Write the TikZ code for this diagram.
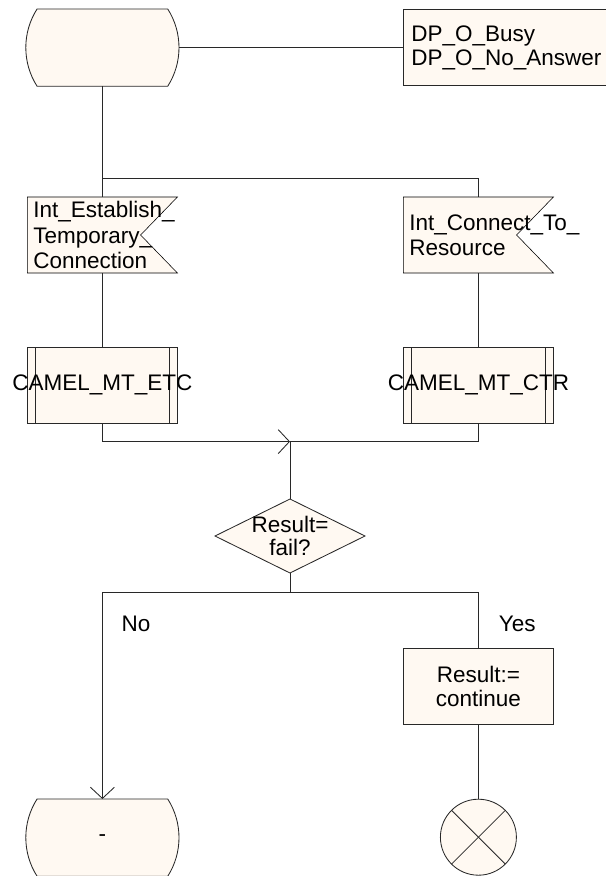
\documentclass[tikz,border=0pt]{standalone}
\usepackage{fontspec}
\setmainfont{Liberation Sans}
\usepackage{tikz}
\usetikzlibrary{arrows.meta, shapes.geometric, shapes.misc, positioning, backgrounds, calc}
\definecolor{symFill}{RGB}{255,249,242}
\definecolor{symLine}{RGB}{40,40,40}

\begin{document}
\begin{tikzpicture}[
    font=\fontsize{16}{17}\selectfont,
    line width=0.6pt, draw=symLine,
    state/.style={rounded rectangle, rounded rectangle arc length=65, draw, fill=symFill, minimum width=3.83cm, minimum height=1.93cm, inner sep=0pt, outer sep=0pt},
    txt/.style={rectangle, draw, fill=symFill, minimum height=1.9cm, text width=6cm, align=left, inner xsep=0.2cm, outer sep=0pt, anchor=west},
    inbox/.style={rectangle, minimum height=1.9cm, text width=3.45cm, align=left, inner xsep=0.15cm, inner ysep=0.02cm, outer sep=0pt, font=\fontsize{16}{18}\selectfont},
    proc/.style={rectangle, draw, fill=symFill, minimum width=3.75cm, minimum height=1.9cm, inner sep=0pt, outer sep=0pt,
      path picture={
        \draw ([xshift=0.19cm]path picture bounding box.north west) -- ([xshift=0.19cm]path picture bounding box.south west);
        \draw ([xshift=-0.19cm]path picture bounding box.north east) -- ([xshift=-0.19cm]path picture bounding box.south east);
      }},
    decision/.style={diamond, draw, fill=symFill, minimum width=3.75cm, minimum height=1.85cm, inner sep=0pt, outer sep=0pt},
    task/.style={rectangle, draw, fill=symFill, minimum width=3.75cm, minimum height=1.88cm, align=center, outer sep=0pt},
    stopsym/.style={circle, draw, fill=symFill, minimum size=1.9cm, inner sep=0pt, outer sep=0pt,
      path picture={
        \draw (path picture bounding box.north west) -- (path picture bounding box.south east);
        \draw (path picture bounding box.north east) -- (path picture bounding box.south west);
      }},
    lbl/.style={inner sep=1pt},
    arr/.style={-{Straight Barb[length=0.28cm, width=0.6cm]}}
  ]
    \useasboundingbox (0,0) rectangle (15.15,-21.9);

    % start state and comment
    \node[state] (stIdle) at (2.56,-1.19) {};
    \node[txt] (dpBox) at (10.085,-1.19) {DP\_O\_Busy\\DP\_O\_No\_Answer};

    % input signals
    \node[inbox] (inETC) at (2.56,-5.875) {Int\_Establish\_\\Temporary\_\\Connection};
    \node[inbox] (inCTR) at (11.96,-5.875) {Int\_Connect\_To\_\\Resource};
    \begin{scope}[on background layer]
      \foreach \n in {inETC, inCTR}
        \draw[fill=symFill] (\n.north west) -- (\n.north east) -- ($(\n.east)+(-0.92,0)$) -- (\n.south east) -- (\n.south west) -- cycle;
    \end{scope}

    % procedure calls
    \node[proc, label={[lbl]center:CAMEL\_MT\_ETC}] (prETC) at (2.56,-9.625) {};
    \node[proc, label={[lbl]center:CAMEL\_MT\_CTR}] (prCTR) at (11.96,-9.625) {};

    % decision
    \node[decision, label={[lbl, align=center]center:{Result=\\fail?}}] (dec) at (7.25,-13.4) {};

    % branches
    \node[lbl] (lblNo) at (3.4,-15.6) {No};
    \node[lbl] (lblYes) at (12.93,-15.6) {Yes};
    \node[task] (task) at (11.96,-17.16) {Result:=\\continue};
    \node[state] (stEnd) at (2.56,-20.94) {-};
    \node[stopsym] (stop) at (11.96,-20.93) {};

    % connections
    \coordinate (br) at (2.56,-4.45);
    \coordinate (jn) at (7.25,-11.04);
    \coordinate (sp) at (7.25,-14.81);
    \draw (stIdle.east) -- (dpBox.west);
    \draw (stIdle.south) -- (br) -- (inETC.north);
    \draw (br) -| (inCTR.north);
    \draw (inETC.south) -- (prETC.north);
    \draw (inCTR.south) -- (prCTR.north);
    \draw[arr] (prETC.south) |- (jn);
    \draw (prCTR.south) |- (jn) -- (dec.north);
    \draw (dec.south) -- (sp);
    \draw[arr] (sp) -| (stEnd.north);
    \draw (sp) -| (task.north);
    \draw (task.south) -- (stop.north);
\end{tikzpicture}
\end{document}
